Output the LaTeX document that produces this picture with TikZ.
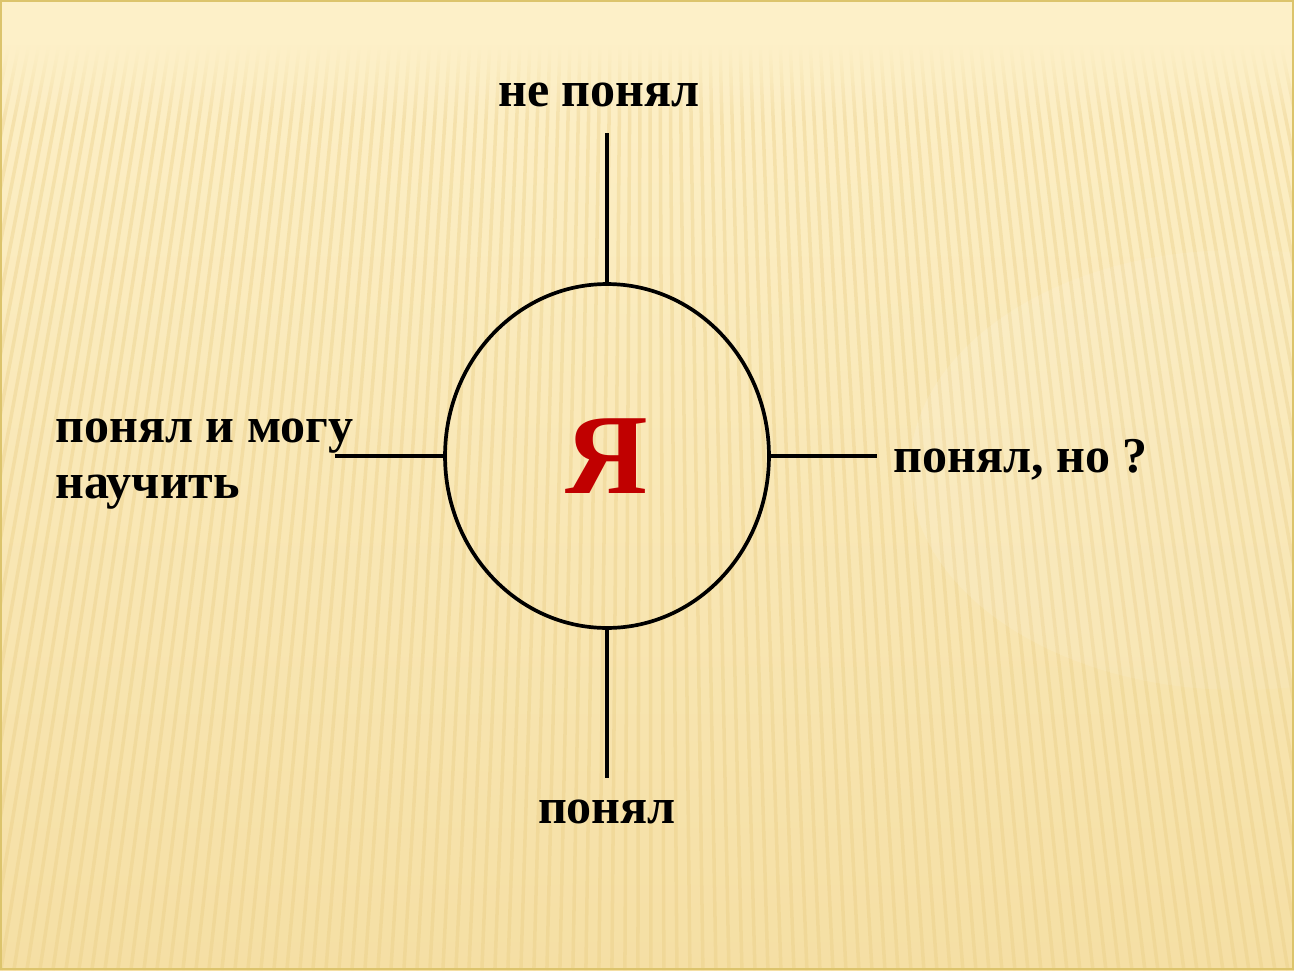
\documentclass[tikz,border=0pt]{standalone}
\usepackage{fontspec}
\setmainfont{Liberation Serif}
\usetikzlibrary{shapes.geometric,fadings}
\definecolor{bgtop}{HTML}{FDF0C8}
\definecolor{bgbot}{HTML}{F5DFA4}
\definecolor{stripe}{HTML}{E8CB80}
\definecolor{framegold}{HTML}{DCC46C}
\definecolor{yared}{HTML}{C00000}
\tikzset{
  lbl/.style={font=\bfseries\fontsize{28.5}{34}\selectfont, inner sep=0pt},
  axisline/.style={line width=2.1pt},
}
\begin{document}
\begin{tikzpicture}[x=0.02cm,y=-0.02cm]
  \useasboundingbox (0,0) rectangle (1294,970);
  % background
  \shade[top color=bgtop, bottom color=bgbot] (0,0) rectangle (1294,970);
  \begin{scope}
    \clip (0,40) rectangle (1294,970);
    \foreach \x in {0,10,...,1300}
      \draw[stripe, line width=2pt, opacity=0.35] (\x,40) -- ({647+(\x-647)*1.3},970);
    \fill[white, opacity=0.12, path fading=east] (1240,470) ellipse (330 and 220);
  \end{scope}
  \fill[bgtop] (0,0) rectangle (1294,45);
  \fill[bgtop, path fading=south] (0,44) rectangle (1294,120);
  \draw[framegold, line width=1.2pt] (1,1) rectangle (1293,969);
  % circle with Я
  \node[ellipse, draw, line width=2.1pt, minimum width=6.48cm, minimum height=6.88cm, inner sep=0pt,
        font=\bfseries\fontsize{65}{65}\selectfont, text=yared] (ya) at (607,456) {Я};
  \coordinate (top) at (607,133);
  \coordinate (bot) at (607,778);
  \coordinate (lft) at (335,456);
  \coordinate (rgt) at (877,456);
  \draw[axisline] (ya.north) -- (top);
  \draw[axisline] (ya.south) -- (bot);
  \draw[axisline] (ya.west) -- (lft);
  \draw[axisline] (ya.east) -- (rgt);
  % labels
  \node[lbl, anchor=base] (nepon) at (599,106) {не понял};
  \node[lbl, anchor=base] (pon) at (607,823) {понял};
  \node[lbl, anchor=base west] (ponno) at (893,472) {понял, но ?};
  \node[lbl, anchor=base west] (ponmog) at (55,442) {понял и могу};
  \node[lbl, anchor=base west] (nauch) at (55,498) {научить};
\end{tikzpicture}
\end{document}
